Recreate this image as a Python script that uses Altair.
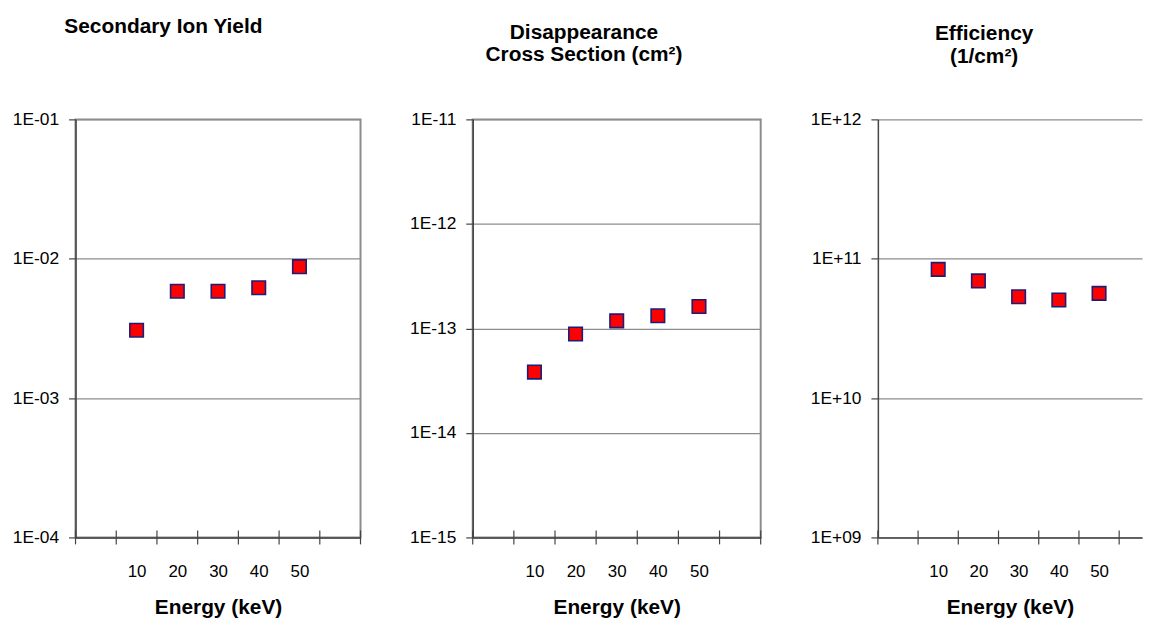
import altair as alt
import pandas as pd

# ---- data ----
energy = [10, 20, 30, 40, 50]
ion_yield = [3.07e-3, 5.85e-3, 5.85e-3, 6.19e-3, 8.77e-3]
cross_section = [3.82e-14, 8.83e-14, 1.18e-13, 1.32e-13, 1.62e-13]
efficiency = [8.39e10, 6.93e10, 5.33e10, 5.05e10, 5.64e10]

yticks_yield = [1e-4, 1e-3, 1e-2, 1e-1]
yticks_cross = [1e-15, 1e-14, 1e-13, 1e-12, 1e-11]
yticks_eff = [1e9, 1e10, 1e11, 1e12]

# category boundaries (blank, 10..50, blank) -> tick marks between categories
category_edges = [-5, 5, 15, 25, 35, 45, 55, 65]

titles = {
    "yield": "Secondary Ion Yield",
    "cross": ["Disappearance", "Cross Section (cm²)"],
    "eff": ["Efficiency", "(1/cm²)"],
}
x_title = "Energy (keV)"

FONT = "Liberation Sans"
H = 421
AXIS_COL = "#444444"
GRID_COL = "#8c8c8c"

label_expr = (
    "'1E' + (round(log(datum.value)/LN10) < 0 ? '-' : '+') + "
    "(abs(round(log(datum.value)/LN10)) < 10 ? '0' : '') + "
    "abs(round(log(datum.value)/LN10))"
)


def panel(values, yticks, title, width, xmax, y_extent, title_dx, title_offset,
          line_height, border):
    df = pd.DataFrame({"energy": energy, "value": values})
    edges = pd.DataFrame({"edge": [e for e in category_edges if e <= xmax]})

    xscale = alt.Scale(domain=[-5, xmax], nice=False, zero=False)
    yscale = alt.Scale(type="log", domain=[yticks[0], yticks[-1]], nice=False)

    pts = alt.Chart(df).mark_point(
        shape="square", filled=True, fill="#ff0000", stroke="#1c1c7a",
        strokeWidth=1.6, size=185, opacity=1,
    ).encode(
        x=alt.X("energy:Q", scale=xscale, title=x_title,
                axis=alt.Axis(values=energy, ticks=False, tickSize=0, grid=False,
                              domainColor=AXIS_COL, domainWidth=1.5,
                              labelFont=FONT, labelFontSize=17, labelColor="black",
                              labelPadding=26, titleFont=FONT, titleFontSize=21,
                              titleFontWeight="bold", titleColor="black",
                              titleBaseline="top", titleY=60)),
        y=alt.Y("value:Q", scale=yscale, title=None,
                axis=alt.Axis(values=yticks, labelExpr=label_expr,
                              tickSize=7, tickColor=AXIS_COL, tickWidth=1.2,
                              domainColor=AXIS_COL, domainWidth=1.5,
                              grid=True, gridColor=GRID_COL, gridWidth=1.2,
                              labelFont=FONT, labelFontSize=17.5, labelColor="black",
                              labelPadding=10, minExtent=y_extent,
                              maxExtent=y_extent)),
    )

    cross_ticks = alt.Chart(edges).mark_rule(color=AXIS_COL, strokeWidth=1.2).encode(
        x=alt.X("edge:Q", scale=xscale),
        y=alt.value(H - 7),
        y2=alt.value(H + 7),
    )

    view = (alt.ViewBackground(stroke="#8c8c8c", strokeWidth=2) if border
            else alt.ViewBackground(stroke="transparent"))

    return alt.layer(cross_ticks, pts).properties(
        width=width, height=H, view=view,
        title=alt.TitleParams(text=title, font=FONT, fontSize=21,
                              fontWeight="bold", color="black", anchor="middle",
                              frame="group", dx=title_dx, offset=title_offset,
                              baseline="bottom", lineHeight=line_height),
    )


p1 = panel(ion_yield, yticks_yield, titles["yield"], 287, 65, 67, -55, 53, 22, True)
p2 = panel(cross_section, yticks_cross, titles["cross"], 290, 65, 67, -33, 25, 22, True)
p3 = panel(efficiency, yticks_eff, titles["eff"], 266, 60.68, 72, -26, 23, 23, False)

chart = alt.hconcat(p1, p2, p3, spacing=43).properties(
    padding={"left": 0, "top": 5, "right": 0, "bottom": 0},
    background="white",
).configure_view(stroke="transparent")

chart.save("out.html", embed_options={"renderer": "svg", "actions": False})
